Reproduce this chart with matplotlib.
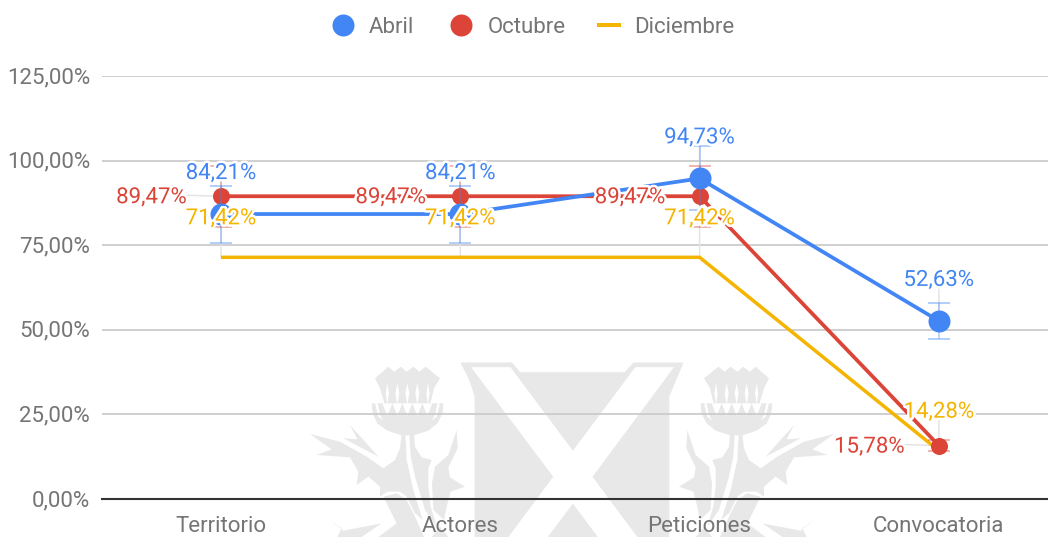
import matplotlib
matplotlib.use("Agg")
import matplotlib.pyplot as plt
import matplotlib.patheffects as pe
from matplotlib.patches import Polygon, Rectangle
from matplotlib.transforms import ScaledTranslation

plt.rcParams['font.family'] = ['Roboto', 'DejaVu Sans']

categories = ["Territorio", "Actores", "Peticiones", "Convocatoria"]
abril = [84.21, 84.21, 94.73, 52.63]
octubre = [89.47, 89.47, 89.47, 15.78]
diciembre = [71.42, 71.42, 71.42, 14.28]
error_fraction = 0.10
yticks = [0, 25, 50, 75, 100, 125]

BLUE, RED, YEL = "#4285F4", "#DB4437", "#F4B400"
TXT = "#757575"
W, H = 1048, 537
FS = 16


def fmt(v, d=2):
    return f"{v:.{d}f}".replace(".", ",") + "%"


fig = plt.figure(figsize=(W / 100, H / 100), dpi=100)

# --- faint watermark in the background (pixel space) ---
bg = fig.add_axes([0, 0, 1, 1], zorder=0)
bg.set_xlim(0, W)
bg.set_ylim(H, 0)
bg.axis("off")
G = "#e8e8e8"


def sh(p):  # shield crop coordinates to pixels
    return [(280 + x / 2.8, 350 + y / 2.8) for x, y in p]


def th(p, right=False):  # thistle crop coordinates to pixels
    q = [(300 + x / 3, 360 + y / 3) for x, y in p]
    return [(1144 - x, y) for x, y in q] if right else q


shield = [(505, 35), (650, 35), (672, 62), (965, 62), (990, 35), (1130, 35), (1090, 130),
          (1090, 570), (545, 570), (545, 130), (530, 85)]
xmark = [(535, 48), (645, 48), (820, 282), (995, 48), (1103, 48), (875, 355), (1035, 570),
         (925, 570), (820, 430), (715, 570), (605, 570), (765, 355)]
bg.add_patch(Polygon(sh(shield), fc=G, ec="none"))
bg.add_patch(Polygon(sh(xmark), fc="white", ec="none"))

crown = [(225, 55), (265, 20), (283, 35), (302, 20), (320, 35), (340, 20), (358, 35), (377, 20),
         (420, 55), (402, 85), (390, 135), (255, 135), (240, 85)]
bowl = [(215, 130), (430, 130), (428, 160), (412, 190), (385, 212), (340, 226), (305, 226),
        (262, 212), (232, 190), (218, 160)]
stem_l = [(305, 222), (316, 222), (320, 300), (340, 390), (368, 480), (345, 460), (320, 410),
          (300, 395), (262, 395), (240, 410), (240, 380), (205, 350), (170, 375), (175, 335),
          (150, 292), (50, 285), (95, 268), (30, 222), (120, 245), (200, 290), (250, 325),
          (285, 300), (300, 265)]
stem_r = [(328, 222), (342, 222), (345, 260), (365, 292), (395, 300), (385, 325), (385, 380),
          (392, 440), (410, 500), (375, 450), (345, 350), (332, 290)]
small_leaf = [(150, 195), (235, 290), (130, 235), (172, 238)]
right_leaf = [(470, 210), (473, 265), (445, 322), (450, 352), (495, 380), (452, 395), (440, 440),
              (432, 480), (400, 450), (396, 370), (405, 320), (445, 285)]
low_leaf = [(250, 410), (290, 400), (320, 420), (345, 470), (372, 531), (235, 531), (290, 490)]
low_right = [(420, 500), (445, 531), (395, 531)]
tail_leaf = [(90, 480), (130, 512), (245, 490), (185, 531), (112, 531), (125, 505)]
for right in (False, True):
    for shape in (crown, bowl, stem_l, stem_r, small_leaf, right_leaf, low_leaf, low_right,
                  tail_leaf):
        bg.add_patch(Polygon(th(shape, right), fc=G, ec="none"))
    for x0, w in ((262, 5), (292, 6), (322, 6), (352, 6), (384, 5)):  # petal slits
        bg.add_patch(Polygon(th([(x0, 70), (x0 + w, 100), (x0, 135), (x0 - w, 100)], right),
                             fc="white", ec="none"))
    for x0 in (262, 292, 322, 352, 382):  # zigzag under the petals
        bg.add_patch(Polygon(th([(x0 - 15, 130), (x0 + 15, 130), (x0, 168)], right),
                             fc="white", ec="none"))
    bg.add_patch(Polygon(th([(225, 130), (233, 130), (240, 165), (250, 182), (235, 170)], right),
                         fc="white", ec="none"))
    bg.add_patch(Polygon(th([(420, 130), (412, 130), (405, 165), (395, 182), (410, 170)], right),
                         fc="white", ec="none"))

# --- chart ---
L, R, T, B = 102, 1048, 76, 499
ax = fig.add_axes([L / W, (H - B) / H, (R - L) / W, (B - T) / H], zorder=1)
ax.patch.set_alpha(0)
ax.set_xlim((L - 221) / 239.3, (R - 221) / 239.3)
ax.set_ylim(0, 125)
for s in ax.spines.values():
    s.set_visible(False)
xs = list(range(len(categories)))

ax.set_yticks(yticks, [fmt(v) for v in yticks])
ax.set_xticks(xs, categories)
ax.tick_params(length=0, labelsize=FS, labelcolor=TXT)
ax.tick_params(axis="y", pad=8.6)
ax.tick_params(axis="x", pad=12.2)
for lab in ax.get_yticklabels():
    lab.set_transform(lab.get_transform() + ScaledTranslation(0, 1 / 100, fig.dpi_scale_trans))
ax.grid(axis="y", color="#cccccc", lw=1.3, zorder=1)
ax.grid(axis="x", visible=False)
ax.set_axisbelow(True)
ax.axhline(0, color="#333333", lw=1.5, zorder=2, clip_on=False)

px = 0.72  # points per pixel
STEM = "#e4e4e4"
# (series, colour, label offset in px, marker size in px, has error bars, draw order)
series = [
    (diciembre, YEL, (0, 41), None, False, 3),
    (octubre, RED, (-34, 1), 17, True, 4),
    (abril, BLUE, (0, 43), 22, True, 5),
]
for vals, col, off, ms, has_err, z in series:
    # leader stems
    for x, v in zip(xs, vals):
        ax.annotate("", xy=(x, v), xytext=(off[0] * px, off[1] * px), textcoords="offset points",
                    arrowprops=dict(arrowstyle="-", color=STEM, lw=1.1, shrinkA=0, shrinkB=0),
                    zorder=2.5, annotation_clip=False)
    if has_err:
        ax.errorbar(xs, vals, yerr=[v * error_fraction for v in vals], fmt="none",
                    ecolor=col, alpha=0.4, elinewidth=1.2, capsize=11 * px, capthick=1.4,
                    zorder=z - 0.5)
for vals, col, off, ms, has_err, z in series:
    ax.plot(xs, vals, color=col, lw=2.7 if ms else 2.5, zorder=z, solid_capstyle="butt",
            marker="o" if ms else None, markersize=(ms or 0) * px, markeredgewidth=0,
            solid_joinstyle="miter", clip_on=False)

halo = [pe.withStroke(linewidth=3.6, foreground="white")]
for vals, col, off, ms, has_err, z in series:
    for x, v in zip(xs, vals):
        ha = "right" if off[0] < 0 else "center"
        t = ax.annotate(fmt(v), xy=(x, v), xytext=(off[0] * px, off[1] * px),
                        textcoords="offset points", ha=ha, va="center_baseline", color=col,
                        fontsize=FS, zorder=10, annotation_clip=False)
        t.set_path_effects(halo)

# --- legend ---
ov = fig.add_axes([0, 0, 1, 1], zorder=2)
ov.set_xlim(0, W)
ov.set_ylim(H, 0)
ov.axis("off")
ov.plot(343, 25, "o", color=BLUE, ms=22 * px, mew=0)
ov.text(369, 25, "Abril", color=TXT, fontsize=FS, va="center_baseline", ha="left")
ov.plot(461, 25, "o", color=RED, ms=22 * px, mew=0)
ov.text(488, 25, "Octubre", color=TXT, fontsize=FS, va="center_baseline", ha="left")
ov.add_patch(Rectangle((597, 23), 24, 4, fc=YEL, ec="none"))
ov.text(634, 25, "Diciembre", color=TXT, fontsize=FS, va="center_baseline", ha="left")

fig.savefig("out.png", dpi=100)
